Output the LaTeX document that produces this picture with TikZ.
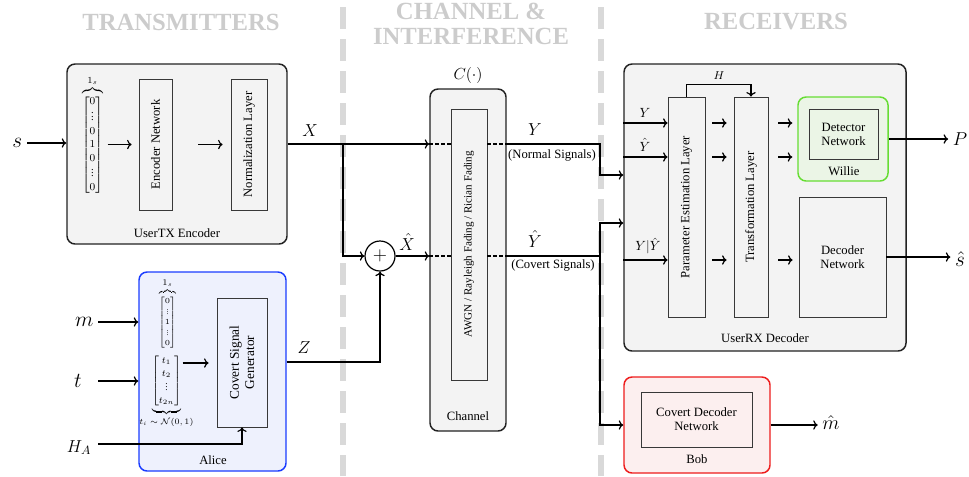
\RequirePackage{fix-cm}
\documentclass[tikz,border=0pt]{standalone}
\usepackage{amsmath}
\usepackage[no-math]{fontspec}
\setmainfont{Liberation Serif}
\usetikzlibrary{arrows.meta,fit,calc}

\definecolor{panel}{HTML}{F3F3F3}
\definecolor{alicefill}{HTML}{EEF1FD}
\definecolor{aliceline}{HTML}{1A3CFF}
\definecolor{williefill}{HTML}{EBF5E6}
\definecolor{willieline}{HTML}{66DD33}
\definecolor{bobfill}{HTML}{FCEFEF}
\definecolor{bobline}{HTML}{EE1C1C}
\definecolor{headgray}{HTML}{CCCCCC}
\definecolor{divgray}{HTML}{D9D9D9}
\definecolor{edge}{HTML}{222222}

% vertical dots that scale with the current font size
\newcommand{\vdotsfit}{\vbox{\baselineskip=.3em\lineskiplimit=0pt\kern.35em\hbox{.}\hbox{.}\hbox{.}}}
% a brace label set at a fixed size
\newcommand{\bracelabel}[2]{\mbox{\fontsize{#1}{#1}\selectfont$#2$}}

\tikzset{
  >={To[length=3.4pt,width=7pt]},
  every node/.style={font=\fontsize{9.5}{11}\selectfont},
  outerbox/.style={draw=edge, line width=1.1pt, rounded corners=6pt, fill=panel, inner sep=0pt},
  innerbox/.style={draw=edge!90, line width=0.6pt, inner sep=0pt},
  conn/.style={line width=0.9pt, draw=black},
  dashline/.style={line width=0.9pt, dash pattern=on 2.5pt off 2pt},
  head/.style={font=\fontsize{18.5}{19}\selectfont\bfseries, text=headgray, inner sep=0pt},
  divider/.style={draw=divgray, line width=4.5pt, dash pattern=on 16.5pt off 7.5pt},
  bigmath/.style={font=\fontsize{16}{18}\selectfont},
  midmath/.style={font=\fontsize{13}{15}\selectfont},
}

\begin{document}
\begin{tikzpicture}[x=0.75pt,y=-0.75pt]
\useasboundingbox (0,0) rectangle (969,476);

% section headings
\node[head] (hTx) at (181,22) {TRANSMITTERS};
\node[head, align=center] (hCh) at (471,24) {CHANNEL \&\\INTERFERENCE};
\node[head] (hRx) at (776,22) {RECEIVERS};

% section dividers
\draw[divider] (343,7) -- (343,476);
\draw[divider] (601,7) -- (601,476);

% ---------------- transmitter ----------------
\node[outerbox, fit={(67,64)(287,244)}] (tx) {};
\node (txlbl) at (177,233) {UserTX Encoder};
\node[innerbox, fit={(139,79)(172,210)}] (enc) {};
\node[rotate=90] (encT) at (enc.center) {Encoder Network};
\node[innerbox, fit={(231,79)(267,210)}] (norm) {};
\node[rotate=90] (normT) at (norm.center) {Normalization Layer};
\node[anchor=south, inner sep=0pt, font=\fontsize{8}{10.3}\selectfont] (vecTx) at (92.5,195)
  {$\overbrace{\begin{bmatrix}0\\ \vdotsfit\\ 0\\ 1\\ 0\\ \vdotsfit\\ 0\end{bmatrix}}^{\bracelabel{7}{1_s}}$};
\draw[conn,->] ($(enc.west)+(-31,0)$) -- ($(enc.west)+(-7,0)$);
\draw[conn,->] ($(enc.east)+(26,0)$) -- ($(norm.west)+(-8,0)$);

\node[bigmath, anchor=east] (s) at (27,143) {$s$};
\draw[conn,->] (s.east) -- (s.east -| tx.west);

% ---------------- Alice ----------------
\node[outerbox, draw=aliceline, fill=alicefill, fit={(139,272)(286,471)}] (alice) {};
\node (alicelbl) at (213,460) {Alice};
\node[innerbox, fit={(217,298)(267,427)}] (gen) {};
\node[rotate=90, align=center, font=\fontsize{10}{11.5}\selectfont] (genT) at (gen.center) {Covert Signal\\Generator};
\node[anchor=south, inner sep=0pt, font=\fontsize{5.8}{7.4}\selectfont] (vecA) at (167.5,349)
  {$\overbrace{\begin{bmatrix}0\\ \vdotsfit\\ 1\\ \vdotsfit\\ 0\end{bmatrix}}^{\bracelabel{6.5}{1_s}}$};
\node[anchor=north, inner sep=0pt, font=\fontsize{7}{9.8}\selectfont] (vecT) at (166.5,354)
  {$\underbrace{\begin{bmatrix}t_1\\ t_2\\ \vdotsfit\\ t_{2n}\end{bmatrix}}_{\bracelabel{6.2}{t_i\sim\mathcal{N}(0,1)}}$};
\draw[conn,->] ($(gen.west |- 0,363)+(-34,0)$) -- ($(gen.west |- 0,363)+(-8,0)$);

\node[bigmath, anchor=east] (m) at (98,322) {$m$};
\node[bigmath] (t) at (78,381) {$t$};
\node[midmath, anchor=base] (hA) at (79,452) {$H_A$};
\coordinate (hin) at (98,444);
\draw[conn,->] (m.east) -- (m.east -| alice.west);
\draw[conn,->] (t.east -| m.east) -- (t.east -| alice.west);
\draw[conn,->] (hin) -| (gen.south);

% ---------------- channel ----------------
\node[outerbox, fit={(430,89)(506,431)}] (chan) {};
\node[innerbox, fit={(451,109)(487,380)}] (awgn) {};
\node[rotate=90, font=\fontsize{8.3}{10}\selectfont] (awgnT) at (awgn.center) {AWGN / Rayleigh Fading / Rician Fading};
\node (chanlbl) at (468,416) {Channel};
\node[font=\fontsize{12}{14}\selectfont] (cfun) at (468,75) {$C(\cdot)$};

\coordinate (rowX) at (0,144);
\coordinate (rowXh) at (0,256);
\coordinate (rowZ) at (0,362);
\coordinate (vx) at (600,0);
\coordinate (br) at (343,144);

\node[circle, draw=black, line width=0.9pt, minimum size=22.5pt, inner sep=0pt, font=\fontsize{14}{14}\selectfont] (sum) at (380,256) {$+$};

\draw[conn,->] (tx.east |- rowX) -- (chan.west |- rowX);
\draw[conn,->] (br) -- (br |- rowXh) -- (sum.west);
\draw[conn,->] (sum.east) -- (chan.west |- sum);
\draw[conn,->] (alice.east |- rowZ) -| (sum.south);

\draw[dashline] (chan.west |- rowX) -- (awgn.west |- rowX);
\draw[dashline] (awgn.east |- rowX) -- (chan.east |- rowX);
\draw[dashline] (chan.west |- rowXh) -- (awgn.west |- rowXh);
\draw[dashline] (awgn.east |- rowXh) -- (chan.east |- rowXh);

\node[midmath] (lX) at (310,131) {$X$};
\node[midmath] (lXh) at (407,242) {$\hat{X}$};
\node[midmath] (lZ) at (304,348) {$Z$};
\node[midmath] (lY) at (535,130) {$Y$};
\node[midmath] (lYh) at (535,239) {$\hat{Y}$};
\node (nsig) at (552,155) {(Normal Signals)};
\node (csig) at (553,265) {(Covert Signals)};

% ---------------- receivers ----------------
\node[outerbox, fit={(624,64)(906,351)}] (rx) {};
\node (rxlbl) at (765,338) {UserRX Decoder};
\node[innerbox, fit={(668,97)(705,317)}] (pel) {};
\node[rotate=90] (pelT) at (pel.center) {Parameter Estimation Layer};
\node[innerbox, fit={(734,97)(768,317)}] (tl) {};
\node[rotate=90] (tlT) at (tl.center) {Transformation Layer};

\node[outerbox, draw=willieline, fill=williefill, line width=1.1pt, fit={(798,97)(888,181)}] (wil) {};
\node[innerbox, fit={(809,109)(878,159)}] (det) {};
\node[align=center, font=\fontsize{9.5}{10.5}\selectfont] (detT) at (det.center) {Detector\\Network};
\node (willbl) at (844,171) {Willie};
\node[innerbox, fit={(799,197)(886,317)}] (dec) {};
\node[align=center, font=\fontsize{9.5}{10.5}\selectfont] (decT) at (dec.center) {Decoder\\Network};

\coordinate (rA) at (0,123);
\coordinate (rB) at (0,157);
\coordinate (rC) at (0,260);
\coordinate (rYin) at (0,175);
\coordinate (rYhin) at (0,223);

% channel outputs into the receiver
\draw[conn,->] (chan.east |- rowX) -- (vx |- rowX) |- (rx.west |- rYin);
\draw[conn] (chan.east |- rowXh) -- (vx |- rowXh);
\draw[conn,->] (vx |- rowXh) |- (rx.west |- rYhin);

% receiver internals
\foreach \r in {rA,rB,rC}{
  \draw[conn,->] (rx.west |- \r) -- (pel.west |- \r);
  \draw[conn,->] ($(pel.east |- \r)+(7,0)$) -- ($(tl.west |- \r)+(-7,0)$);
}
\draw[conn,->] ($(tl.east |- rA)+(10,0)$) -- ($(wil.west |- rA)+(-5,0)$);
\draw[conn,->] ($(tl.east |- rB)+(10,0)$) -- ($(wil.west |- rB)+(-5,0)$);
\draw[conn,->] ($(tl.east |- rC)+(10,0)$) -- ($(dec.west |- rC)+(-6,0)$);
\draw[conn,->] (pel.north) -- ++(0,-12) -| (tl.north);

\node[font=\fontsize{8.5}{10}\selectfont] (lH) at (719,76) {$H$};
\node[font=\fontsize{10}{12}\selectfont] (lYa) at (645,113) {$Y$};
\node[font=\fontsize{10}{12}\selectfont] (lYb) at (645,145) {$\hat{Y}$};
\node[font=\fontsize{10}{12}\selectfont] (lYc) at (648,246) {$Y|\hat{Y}$};

\node[font=\fontsize{14}{16}\selectfont] (P) at (960,139) {$P$};
\node[bigmath] (shat) at (960,259) {$\hat{s}$};
\draw[conn,->] (wil.east) -- (wil.east -| P.west);
\draw[conn,->] (dec.east) -- (dec.east -| shat.west);

% ---------------- Bob ----------------
\node[outerbox, draw=bobline, fill=bobfill, fit={(624,377)(770,473)}] (bob) {};
\node[innerbox, fit={(641,392)(752,447)}] (cdec) {};
\node[align=center, font=\fontsize{9.5}{10.5}\selectfont] (cdecT) at (cdec.center) {Covert Decoder\\Network};
\node (boblbl) at (697,459) {Bob};
\draw[conn,->] (vx |- rowXh) |- (bob.west);
\node[font=\fontsize{15}{17}\selectfont] (mhat) at (831,423) {$\hat{m}$};
\draw[conn,->] (bob.east) -- (bob.east -| mhat.west);

\end{tikzpicture}
\end{document}
